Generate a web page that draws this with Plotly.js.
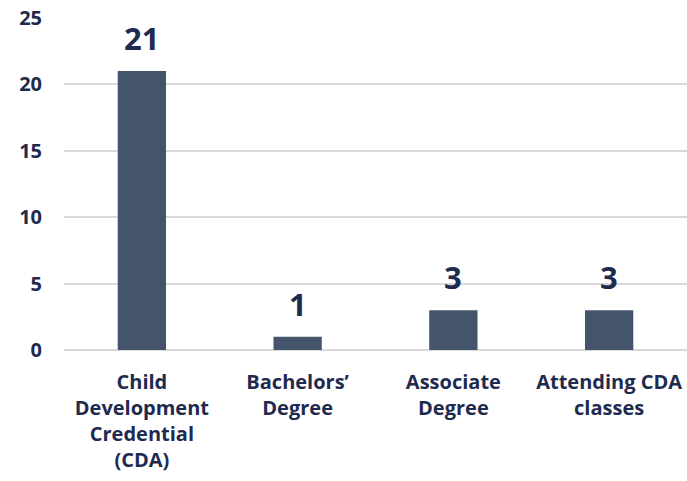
<!DOCTYPE html>
<html>
<head>
<meta charset="utf-8">
<script src="https://cdn.plot.ly/plotly-3.0.1.min.js"></script>
<style>html,body{margin:0;padding:0;background:#fff;}#chart{width:687px;height:481px;}</style>
</head>
<body>
<div id="chart"></div>
<script>
const categories = ["Child Development Credential (CDA)", "Bachelors’ Degree", "Associate Degree", "Attending CDA classes"];
const tickLabels = ["Child<br>Development<br>Credential<br>(CDA)", "Bachelors’<br>Degree", "Associate<br>Degree", "Attending CDA<br>classes"];
const values = [21, 1, 3, 3];

const textColor = "#1F2A4F";
const fontFam = "'Open Sans', sans-serif";

const trace = {
  type: "bar",
  x: categories,
  y: values,
  marker: {color: "#44546A"},
  hoverinfo: "none"
};

const annotations = categories.map((c, i) => ({
  x: c, y: values[i], xref: "x", yref: "y",
  text: String(values[i]), showarrow: false,
  yanchor: "bottom", yshift: 10,
  font: {family: fontFam, size: 31, color: textColor, weight: "bold"}
}));

const layout = {
  width: 687, height: 481,
  margin: {l: 64, r: 0, t: 18, b: 131},
  paper_bgcolor: "#fff", plot_bgcolor: "#fff",
  showlegend: false,
  bargap: 0.69,
  font: {family: fontFam, color: textColor, weight: "bold"},
  xaxis: {
    tickvals: categories, ticktext: tickLabels,
    tickfont: {family: fontFam, size: 20, color: textColor, weight: "bold"},
    showgrid: false, showline: false, zeroline: false, ticks: "",
    ticklabelstandoff: 18,
    fixedrange: true
  },
  yaxis: {
    range: [0, 25], dtick: 5, tick0: 0,
    showgrid: true, gridcolor: "#D9D9D9", gridwidth: 2,
    zeroline: true, zerolinecolor: "#D9D9D9", zerolinewidth: 2,
    showline: false, ticks: "", ticklabelstandoff: 21,
    tickfont: {family: fontFam, size: 20, color: textColor, weight: "bold"},
    fixedrange: true
  },
  annotations: annotations
};

Plotly.newPlot("chart", [trace], layout, {displayModeBar: false, staticPlot: true});
</script>
</body>
</html>
